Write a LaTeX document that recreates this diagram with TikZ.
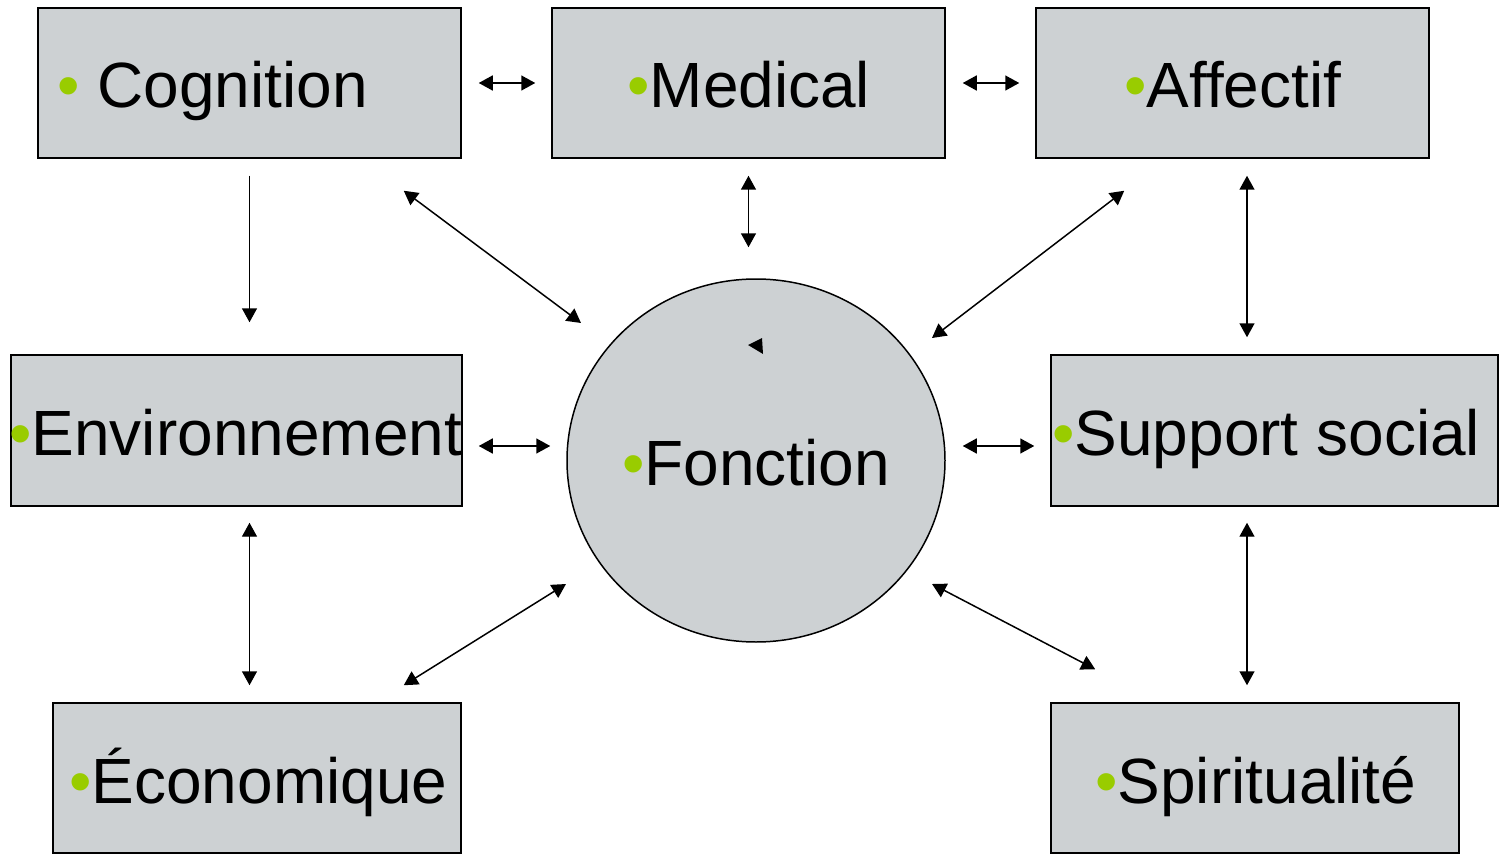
\documentclass[tikz,border=0pt]{standalone}
\usepackage{fontspec}
\setmainfont{Liberation Sans}
\usetikzlibrary{arrows.meta,shapes.geometric}
\definecolor{boxgray}{RGB}{205,209,211}
\definecolor{dotgreen}{RGB}{153,204,0}
\newcommand{\bul}{{\color{dotgreen}•}}

\begin{document}
\begin{tikzpicture}[
  box/.style={draw, line width=0.85pt, fill=boxgray, inner sep=0pt, minimum height=3cm},
  lbl/.style={anchor=base west, inner sep=0pt, font=\fontsize{36.4}{40}\selectfont},
  arr/.style={line width=0.85pt, {Triangle[length=2.8mm,width=3mm]}-{Triangle[length=2.8mm,width=3mm]}},
  onearr/.style={line width=0.85pt, -{Triangle[length=2.8mm,width=3mm]}}
]
\useasboundingbox (0,0) rectangle (29.98,17.16);

% top row
\node[box, minimum width=8.46cm] (cog) at (4.99,15.5) {};
\node[box, minimum width=7.86cm] (med) at (14.97,15.5) {};
\node[box, minimum width=7.86cm] (aff) at (24.65,15.5) {};
% middle row
\node[box, minimum width=9.02cm, minimum height=3.02cm] (env) at (4.73,8.55) {};
\node[draw, ellipse, line width=0.85pt, fill=boxgray, inner sep=0pt,
      minimum width=7.56cm, minimum height=7.26cm] (fon) at (15.12,7.95) {};
\node[box, minimum width=8.94cm, minimum height=3.02cm] (sup) at (25.49,8.55) {};
% bottom row
\node[box, minimum width=8.16cm] (eco) at (5.14,1.6) {};
\node[box, minimum width=8.16cm] (spi) at (25.1,1.6) {};

% labels
\node[lbl] (cogt) at (1.14,15.0) {\bul\ Cognition};
\node[lbl] (medt) at (12.54,15.0) {\bul Medical};
\node[lbl] (afft) at (22.48,15.0) {\bul Affectif};
\node[lbl] (envt) at (0.18,8.06) {\bul Environnement};
\node[lbl] (font) at (12.44,7.46) {\bul Fonction};
\node[lbl] (supt) at (21.04,8.06) {\bul Support social};
\node[lbl] (ecot) at (1.38,1.1) {\bul Économique};
\node[lbl] (spit) at (21.9,1.1) {\bul Spiritualité};

% horizontal links
\draw[arr, shorten <=0.34cm, shorten >=0.32cm] (cog.east) -- (med.west);
\draw[arr, shorten <=0.34cm, shorten >=0.32cm] (med.east) -- (aff.west);
\draw[arr, shorten <=0.32cm, shorten >=0.32cm] ([yshift=-0.31cm]env.east) -- ([yshift=-0.31cm]env.east -| fon.west);
\draw[arr, shorten <=0.34cm, shorten >=0.32cm] ([yshift=-0.31cm]sup.west -| fon.east) -- ([yshift=-0.31cm]sup.west);

% vertical links
\draw[onearr, shorten <=0.34cm, shorten >=0.64cm] (cog.south) -- (cog.south |- env.north);
\draw[arr, shorten <=0.34cm, shorten >=0.62cm] (med.south) -- (med.south |- fon.north);
\draw[arr, shorten <=0.34cm, shorten >=0.34cm] ([xshift=0.29cm]aff.south) -- ([xshift=0.29cm]aff.south |- sup.north);
\draw[arr, shorten <=0.32cm, shorten >=0.34cm] (cog.south |- env.south) -- (cog.south |- eco.north);
\draw[arr, shorten <=0.32cm, shorten >=0.34cm] ([xshift=-0.16cm]spi.north |- sup.south) -- ([xshift=-0.16cm]spi.north);

% diagonal links to Fonction
\draw[arr] ([shift={(-1.16,-0.64)}]cog.south east) -- ([shift={(-3.5,2.75)}]fon.center);
\draw[arr] ([shift={(1.78,-0.64)}]aff.south west) -- ([shift={(3.52,2.45)}]fon.center);
\draw[arr] ([shift={(-1.16,0.34)}]eco.north east) -- ([shift={(-3.8,-2.47)}]fon.center);
\draw[arr] ([shift={(0.9,0.66)}]spi.north west) -- ([shift={(3.52,-2.47)}]fon.center);

% stray tip inside the circle
\fill ([shift={(-0.16,2.31)}]fon.center) -- ([shift={(0.12,2.45)}]fon.center) -- ([shift={(0.14,2.13)}]fon.center) -- cycle;
\end{tikzpicture}
\end{document}
